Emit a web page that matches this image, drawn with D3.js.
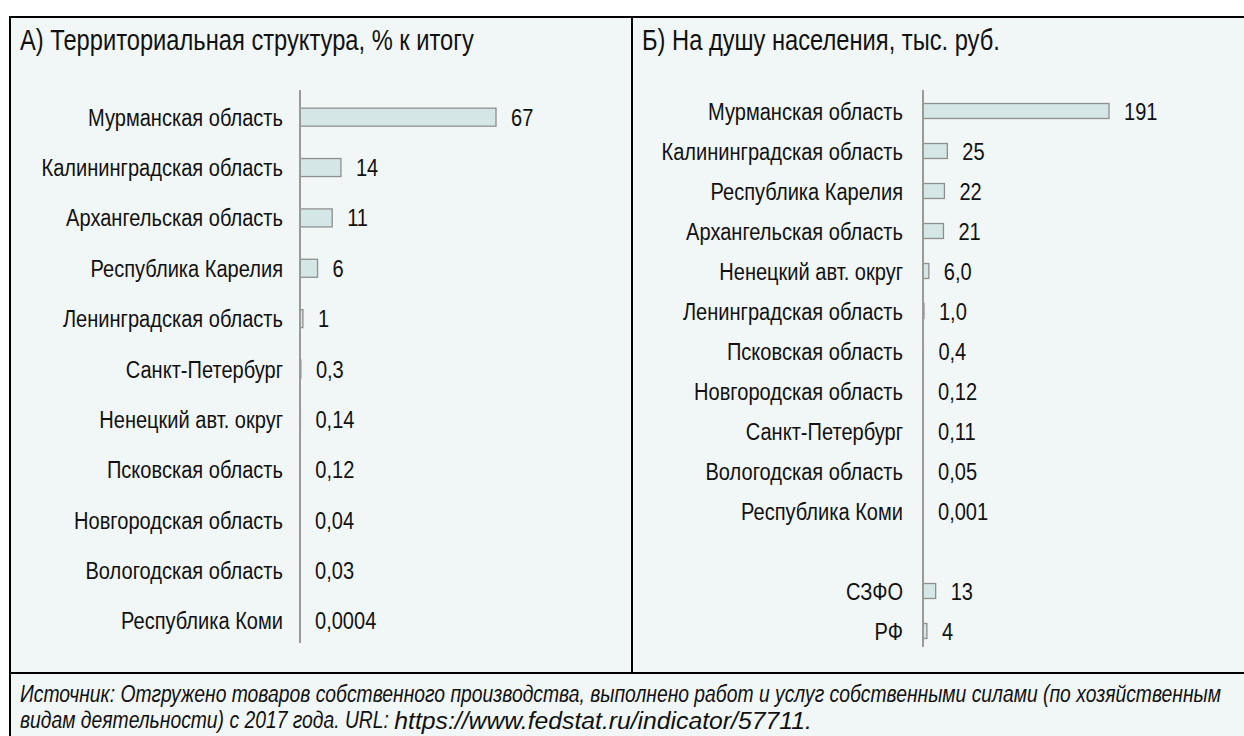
<!DOCTYPE html>
<html><head><meta charset="utf-8">
<script src="https://cdn.jsdelivr.net/npm/d3@7"></script>
<style>
html,body{margin:0;padding:0;background:#fff;}
svg text{font-family:"Liberation Sans",Arial,sans-serif;fill:#111;}
</style></head>
<body>
<svg id="c" width="1244" height="736"></svg>
<script>
// Panel A: territorial structure, % of total
const catsA = ["Мурманская область","Калининградская область","Архангельская область","Республика Карелия","Ленинградская область","Санкт-Петербург","Ненецкий авт. округ","Псковская область","Новгородская область","Вологодская область","Республика Коми"];
const valsA = [67,14,11,6,1,0.3,0.14,0.12,0.04,0.03,0.0004];
const labelsA = ["67","14","11","6","1","0,3","0,14","0,12","0,04","0,03","0,0004"];
// Panel B: per capita, thousand rubles
const catsB = ["Мурманская область","Калининградская область","Республика Карелия","Архангельская область","Ненецкий авт. округ","Ленинградская область","Псковская область","Новгородская область","Санкт-Петербург","Вологодская область","Республика Коми","","СЗФО","РФ"];
const valsB = [191,25,22,21,6.0,1.0,0.4,0.12,0.11,0.05,0.001,null,13,4];
const labelsB = ["191","25","22","21","6,0","1,0","0,4","0,12","0,11","0,05","0,001","","13","4"];
const titleA = "А) Территориальная структура, % к итогу";
const titleB = "Б) На душу населения, тыс. руб.";
const sourceLine1 = "Источник: Отгружено товаров собственного производства, выполнено работ и услуг собственными силами (по хозяйственным";
const sourceLine2a = "видам деятельности) с 2017 года. URL: ";
const sourceLine2b = "https://www.fedstat.ru/indicator/57711.";

const svg = d3.select("#c");
const SX = 0.82; // narrow-face squeeze

function measure(str, size, italic){
  const t = svg.append("text").attr("font-size",size).attr("font-style",italic?"italic":null)
    .attr("xml:space","preserve").style("white-space","pre").text(str);
  const w = t.node().getComputedTextLength(); t.remove(); return w;
}
function fit(str, target, italic){ return 20 * target / (measure(str,20,italic) * SX); }
const LBL = fit("Мурманская область", 195);
const TTL = fit(titleA, 454);
const SRC = fit(sourceLine1, 1202, true);

function ntext(parent, x, y, str, size, sx, anchor, italic){
  const g = parent.append("g").attr("transform",`translate(${x},${y}) scale(${sx},1)`);
  g.append("text").attr("font-size",size).attr("text-anchor",anchor||"start")
   .attr("font-style",italic?"italic":null).attr("dy","0.35em").style("white-space","pre").text(str);
  return g;
}

svg.append("rect").attr("x",10).attr("y",16).attr("width",1234).attr("height",720).attr("fill","#F1F7F7");
svg.append("line").attr("x1",9).attr("x2",1244).attr("y1",17).attr("y2",17).attr("stroke","#000").attr("stroke-width",2);
svg.append("line").attr("x1",10).attr("x2",10).attr("y1",16).attr("y2",736).attr("stroke","#000").attr("stroke-width",2);
svg.append("line").attr("x1",632).attr("x2",632).attr("y1",16).attr("y2",673).attr("stroke","#000").attr("stroke-width",2);
svg.append("line").attr("x1",9).attr("x2",1244).attr("y1",673).attr("y2",673).attr("stroke","#000").attr("stroke-width",2);

ntext(svg, 20, 40, titleA, TTL, SX);
ntext(svg, 642, 40, titleB, TTL, SX);

function panel(cats, vals, labels, cfg){
  const g = svg.append("g");
  const x = d3.scaleLinear().domain([0,cfg.max]).range([cfg.x0, cfg.x1]);
  const y = d3.scaleBand().domain(d3.range(cats.length)).range([cfg.y0, cfg.y1]).paddingInner(cfg.pad).paddingOuter(cfg.pad/2);
  const bw = y.bandwidth();
  const data = cats.map((c,i)=>({c, v:vals[i], l:labels[i], i}));
  g.selectAll("rect.bar").data(data.filter(d=>d.v!=null)).join("rect").attr("class","bar")
    .attr("x", x(0)).attr("y", d=>y(d.i)+ (bw-cfg.bh)/2)
    .attr("width", d=>Math.max(0, x(d.v)-x(0))).attr("height", cfg.bh)
    .attr("fill","#D5E6E6").attr("stroke","#8f8f8f").attr("stroke-width",1.3);
  data.forEach(d=>{
    const cy = y(d.i)+bw/2;
    ntext(g, x(0)-cfg.gapL, cy, d.c, LBL, SX, "end");
    const vx = (d.v!=null? Math.max(x(d.v),x(0)) : x(0)) + cfg.gapV;
    ntext(g, vx, cy, d.l, LBL, SX, "start");
  });
  g.append("line").attr("x1",x(0)).attr("x2",x(0)).attr("y1",cfg.axTop).attr("y2",cfg.axBot)
    .attr("stroke","#9a9a9a").attr("stroke-width",2);
}
panel(catsA, valsA, labelsA, {max:67, x0:300, x1:496, y0:92, y1:646, pad:0.64, bh:18, gapL:17, gapV:15, axTop:90, axBot:643});
panel(catsB, valsB, labelsB, {max:191, x0:923, x1:1109, y0:91, y1:651, pad:0.62, bh:15, gapL:20, gapV:15, axTop:90, axBot:647});

ntext(svg, 20, 694, sourceLine1, SRC, SX, "start", true);
ntext(svg, 20, 720, sourceLine2a, SRC, SX, "start", true);
const w2a = measure(sourceLine2a, SRC, true) * SX;
// URL part is set in a wider, slightly larger face in the reference
const urlSize = SRC * 1.05;
const urlSx = (832 - 20 - w2a) / measure(sourceLine2b, urlSize, true);
ntext(svg, 20 + w2a, 720, sourceLine2b, urlSize, Math.min(1, urlSx), "start", true);
</script>
</body></html>
